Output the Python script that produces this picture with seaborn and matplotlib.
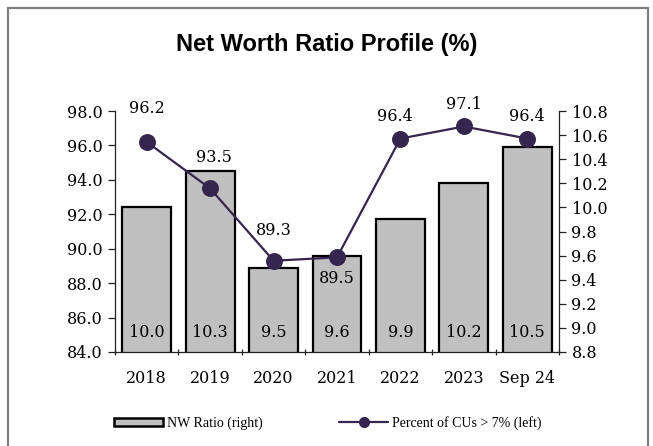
import matplotlib
matplotlib.use("Agg")
import matplotlib.pyplot as plt
from matplotlib.patches import Patch, Rectangle
from matplotlib.lines import Line2D
import seaborn as sns
import pandas as pd

# Data
periods = ["2018", "2019", "2020", "2021", "2022", "2023", "Sep 24"]
nw_ratio = [10.0, 10.3, 9.5, 9.6, 9.9, 10.2, 10.5]          # right axis, bars
pct_above_7 = [96.2, 93.5, 89.3, 89.5, 96.4, 97.1, 96.4]    # left axis, line
left_ticks = [84.0, 86.0, 88.0, 90.0, 92.0, 94.0, 96.0, 98.0]
right_ticks = [8.8, 9.0, 9.2, 9.4, 9.6, 9.8, 10.0, 10.2, 10.4, 10.6, 10.8]

df = pd.DataFrame({"period": periods, "nw": nw_ratio, "pct": pct_above_7})

sns.set_style("white")
plt.rcParams["font.family"] = ["DejaVu Serif"]
plt.rcParams["text.color"] = "black"
plt.rcParams["xtick.color"] = "black"
plt.rcParams["ytick.color"] = "black"

BAR_COLOR = "#c0c0c0"
LINE_COLOR = "#35264f"
TICK_FS = 11.5

fig = plt.figure(figsize=(6.53, 4.46), dpi=100)
ax = fig.add_axes([115 / 653, 1 - 352 / 446, (559 - 115) / 653, (352 - 111) / 446])
ax2 = ax.twinx()

# Bars on the right-hand scale
sns.barplot(data=df, x="period", y="nw", ax=ax, color=BAR_COLOR,
            edgecolor="black", linewidth=1.6, width=0.77, saturation=1)
ax.set_ylim(8.8, 10.8)
ax.yaxis.tick_right()
ax.yaxis.set_label_position("right")
ax.set_yticks(right_ticks)
ax.set_yticklabels([f"{v:.1f}" for v in right_ticks], fontsize=TICK_FS)

# Line on the left-hand scale
sns.pointplot(data=df, x="period", y="pct", ax=ax2, color=LINE_COLOR,
              markers="o", markersize=11, linewidth=1.6)
ax2.set_ylim(84, 98)
ax2.yaxis.tick_left()
ax2.yaxis.set_label_position("left")
ax2.set_yticks(left_ticks)
ax2.set_yticklabels([f"{v:.1f}" for v in left_ticks], fontsize=TICK_FS)

for a in (ax, ax2):
    a.set_xlim(-0.5, len(periods) - 0.5)
    a.set_xlabel("")
    a.set_ylabel("")
    for s in a.spines.values():
        s.set_visible(False)

ax.spines["bottom"].set_visible(True)
ax.spines["right"].set_visible(True)
ax2.spines["left"].set_visible(True)
for s in (ax.spines["bottom"], ax.spines["right"], ax2.spines["left"]):
    s.set_color("#222222")
    s.set_linewidth(0.9)

# Category labels with boundary ticks
ax.set_xticks(range(len(periods)))
ax.set_xticklabels(periods, fontsize=TICK_FS)
ax.set_xticks([i - 0.5 for i in range(len(periods) + 1)], minor=True)
ax.tick_params(axis="x", which="major", length=0, pad=13)
ax.tick_params(axis="x", which="minor", length=5, width=0.9, direction="inout",
               color="#222222", bottom=True)
ax.tick_params(axis="y", which="major", length=5, width=0.9, color="#222222",
               right=True, left=False, pad=4)
ax2.tick_params(axis="y", which="major", length=5, width=0.9, color="#222222",
                left=True, right=False, pad=4)
ax2.tick_params(axis="x", length=0)

# Bar value labels at the base of each bar
for i, v in enumerate(nw_ratio):
    ax.annotate(f"{v:.1f}", xy=(i, 8.8), xytext=(0, 8), textcoords="offset points",
                ha="center", va="bottom", fontsize=TICK_FS, color="black")

# Line value labels
label_offsets = [24, 22, 22, -15, 16, 16, 16]
label_dx = [0, 3, 0, 0, -4, 0, 0]
for i, v in enumerate(pct_above_7):
    ax2.annotate(f"{v:.1f}", xy=(i, v), xytext=(label_dx[i], label_offsets[i]),
                 textcoords="offset points", ha="center", va="center",
                 fontsize=TICK_FS, color="black")

# Title
fig.text(327 / 653, 1 - 45 / 446, "Net Worth Ratio Profile (%)",
         ha="center", va="center", fontsize=17, fontweight="bold",
         family="Liberation Sans", color="black")

# Legend
handles = [
    Patch(facecolor=BAR_COLOR, edgecolor="black", linewidth=1.8),
    Line2D([0], [0], color=LINE_COLOR, lw=1.6, marker="o", markersize=7),
]
fig.legend(handles, ["NW Ratio (right)", "Percent of CUs > 7% (left)"],
           loc="center", bbox_to_anchor=(328 / 653, 1 - 423 / 446), ncol=2,
           frameon=False, prop={"family": "Liberation Serif", "size": 10},
           handlelength=3.5, handleheight=0.5, handletextpad=0.3,
           columnspacing=5.5, labelcolor="black")

# Outer frame
fig.patches.append(Rectangle((8 / 653, -0.05), (648 - 8) / 653, 1 - 8 / 446 + 0.05,
                             transform=fig.transFigure, fill=False,
                             edgecolor="#7f7f7f", linewidth=1.6))

fig.savefig("out.png", dpi=100)
